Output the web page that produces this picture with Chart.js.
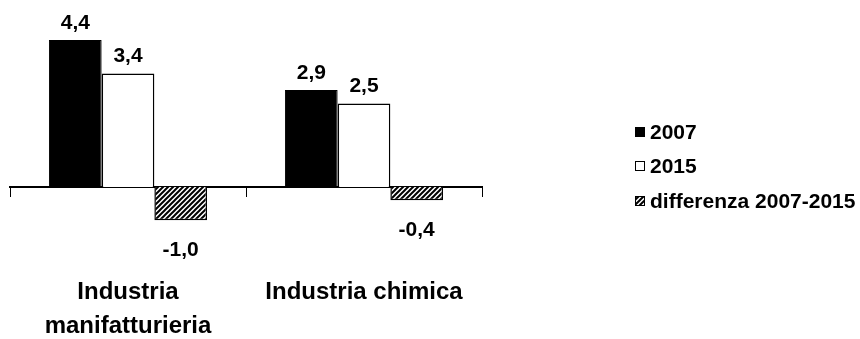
<!DOCTYPE html>
<html><head><meta charset="utf-8">
<script src="https://cdn.jsdelivr.net/npm/chart.js@4/dist/chart.umd.min.js"></script>
<style>html,body{margin:0;padding:0;background:#fff;}</style>
</head><body>
<canvas id="c" width="860" height="339" style="display:block;width:860px;height:339px"></canvas>
<script>
// ---- data ----
const categories = [["Industria", "manifatturieria"], "Industria chimica"];
const seriesNames = ["2007", "2015", "differenza 2007-2015"];
const values2007 = [4.4, 2.9];
const values2015 = [3.4, 2.5];
const valuesDiff = [-1.0, -0.4];
const yMin = -3, yMax = 5;

const FONT = '"Liberation Sans", Arial, sans-serif';

function hatch() {
  const s = 5;
  const p = document.createElement('canvas');
  p.width = s; p.height = s;
  const g = p.getContext('2d');
  g.fillStyle = '#fff'; g.fillRect(0, 0, s, s);
  g.strokeStyle = '#000'; g.lineWidth = 2;
  g.beginPath();
  g.moveTo(-1, s + 1); g.lineTo(s + 1, -1);
  g.moveTo(-1, 1); g.lineTo(1, -1);
  g.moveTo(s - 1, s + 1); g.lineTo(s + 1, s - 1);
  g.stroke();
  return document.getElementById('c').getContext('2d').createPattern(p, 'repeat');
}
const hatchPattern = hatch();

const fmt = v => v.toFixed(1).replace('.', ',');

const labelPlugin = {
  id: 'labels',
  afterDatasetsDraw(chart) {
    const ctx = chart.ctx;
    ctx.save();
    ctx.fillStyle = '#000';
    ctx.font = 'bold 21px ' + FONT;
    ctx.textAlign = 'center';
    ctx.textBaseline = 'middle';
    chart.data.datasets.forEach((ds, i) => {
      const meta = chart.getDatasetMeta(i);
      meta.data.forEach((el, j) => {
        const v = ds.data[j];
        const y = v >= 0 ? el.y - 17 : el.y + 30;
        ctx.fillText(fmt(v), el.x, y);
      });
    });
    // legend
    const lx = 635, rows = [132, 166, 201], sz = 10;
    ctx.font = 'bold 21px ' + FONT;
    ctx.textAlign = 'left';
    chart.data.datasets.forEach((ds, i) => {
      const cy = rows[i];
      ctx.fillStyle = ds.backgroundColor;
      ctx.fillRect(lx, cy - sz / 2, sz, sz);
      ctx.strokeStyle = '#000'; ctx.lineWidth = 1;
      ctx.strokeRect(lx + 0.5, cy - sz / 2 + 0.5, sz - 1, sz - 1);
      ctx.fillStyle = '#000';
      ctx.fillText(ds.label, lx + 15, cy + 1);
    });
    ctx.restore();
  }
};

new Chart(document.getElementById('c'), {
  type: 'bar',
  data: {
    labels: categories,
    datasets: [
      { label: seriesNames[0], data: values2007, backgroundColor: '#000', borderColor: '#000', borderWidth: 1 },
      { label: seriesNames[1], data: values2015, backgroundColor: '#fff', borderColor: '#000', borderWidth: 1.5 },
      { label: seriesNames[2], data: valuesDiff, backgroundColor: hatchPattern, borderColor: '#000', borderWidth: 1.5 }
    ]
  },
  options: {
    responsive: false,
    animation: false,
    devicePixelRatio: 1,
    layout: { padding: { left: 10, right: 378, top: 20, bottom: 52 } },
    plugins: { legend: { display: false }, tooltip: { enabled: false } },
    datasets: { bar: { categoryPercentage: 0.67, barPercentage: 1.0 } },
    scales: {
      y: { display: false, min: yMin, max: yMax },
      x: {
        position: { y: 0 },
        afterFit(scale) { scale.paddingLeft = 0; scale.paddingRight = 0; },
        border: { display: true, color: '#000', width: 2 },
        grid: { offset: true, drawOnChartArea: false, drawTicks: true, tickLength: 9, color: '#000', lineWidth: 1 },
        ticks: {
          color: '#000', padding: 79, maxRotation: 0, autoSkip: false,
          font: { family: FONT, size: 24, weight: 'bold', lineHeight: 1.42 }
        }
      }
    }
  },
  plugins: [labelPlugin]
});
</script>
</body></html>
